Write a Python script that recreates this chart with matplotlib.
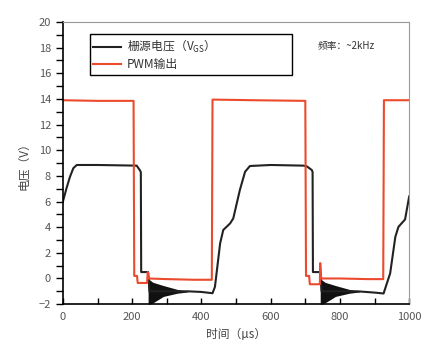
import matplotlib
matplotlib.use("Agg")
import matplotlib.pyplot as plt
from matplotlib.ticker import MultipleLocator

plt.rcParams['font.family'] = ['Noto Sans CJK SC', 'DejaVu Sans']
plt.rcParams['mathtext.fontset'] = 'custom'
plt.rcParams['mathtext.rm'] = 'Noto Sans CJK SC'
plt.rcParams['mathtext.it'] = 'Noto Sans CJK SC'

# PWM 输出 (red)
pwm_t = [0, 100, 204, 206, 214, 216, 243, 245, 248, 300, 380, 430,
         432, 550, 700, 702, 711, 713, 742, 743, 746, 800, 880, 925,
         927, 1000]
pwm_v = [13.9, 13.85, 13.85, 0.2, 0.2, -0.35, -0.35, 0.5, 0.0, -0.05, -0.1, -0.1,
         13.95, 13.9, 13.85, 0.2, 0.2, -0.45, -0.45, 1.2, 0.0, 0.0, -0.05, -0.05,
         13.9, 13.9]

# 栅源电压 Vgs (black)
vgs_t = [0, 10, 20, 30, 40, 100, 213, 222, 225, 226, 246, 250, 360, 400, 432,
         439, 454, 463, 483, 492, 511, 526, 540, 600, 694, 704, 719, 721,
         722, 743, 747, 850, 900, 926, 945, 960, 969, 988, 1000]
vgs_v = [6.0, 7.0, 7.9, 8.6, 8.85, 8.85, 8.8, 8.45, 8.3, 0.5, 0.5, -1.0, -1.0, -1.05, -1.15,
         -0.65, 2.74, 3.78, 4.3, 4.69, 6.9, 8.32, 8.77, 8.85, 8.8, 8.75, 8.45, 8.3,
         0.5, 0.5, -1.0, -1.0, -1.1, -1.17, 0.4, 3.25, 4.03, 4.6, 6.4]

# ringing envelopes after turn-off
ring1_t = [246, 250, 260, 290, 330, 360]
ring2_t = [743, 747, 757, 787, 827, 857]
ring_up = [0.3, -0.1, -0.3, -0.55, -0.85, -1.0]
ring_lo = [-2.0, -2.0, -1.9, -1.4, -1.15, -1.05]

fig = plt.figure(figsize=(4.4, 3.52), dpi=100)
ax = fig.add_axes([0.143, 0.136, 0.787, 0.8015])

ax.fill_between(ring1_t, ring_lo, ring_up, color='#111111', lw=0)
ax.fill_between(ring2_t, ring_lo, ring_up, color='#111111', lw=0)
ax.plot(vgs_t, vgs_v, color='#222222', lw=1.5, label='栅源电压（V$_{\\rm GS}$）')
ax.plot(pwm_t, pwm_v, color='#ec4a2c', lw=1.5, label='PWM输出')

ax.set_xlim(0, 1000)
ax.set_ylim(-2, 20)
ax.xaxis.set_major_locator(MultipleLocator(200))
ax.xaxis.set_minor_locator(MultipleLocator(100))
ax.yaxis.set_major_locator(MultipleLocator(2))
ax.yaxis.set_minor_locator(MultipleLocator(1))
ax.tick_params(axis='x', which='both', direction='in', length=4, width=1,
               labelsize=8, labelcolor='#555555', pad=6)
ax.tick_params(axis='y', which='both', direction='out', length=5, width=1,
               labelsize=8, labelcolor='#555555')
for s in ['top', 'right']:
    ax.spines[s].set_color('#999999')
for s in ['left', 'bottom']:
    ax.spines[s].set_linewidth(1.2)

ax.set_xlabel('时间（µs）', fontsize=8.5, color='#444444', labelpad=4)
ax.set_ylabel('电压（V）', fontsize=8.5, color='#444444', labelpad=6)

leg = ax.legend(loc='upper left', bbox_to_anchor=(0.078, 0.957, 0.584, 0.0),
                mode='expand', fontsize=8.5, fancybox=False, edgecolor='black',
                framealpha=1, handlelength=2.3, handletextpad=0.5, borderpad=0.3,
                labelspacing=0.3, borderaxespad=0)
leg.get_frame().set_linewidth(1.0)
for t in leg.get_texts():
    t.set_color('#333333')

ax.text(0.735, 0.915, '频率：~2kHz', transform=ax.transAxes, fontsize=7,
        color='#333333', va='center')

fig.savefig('out.png', dpi=100)
